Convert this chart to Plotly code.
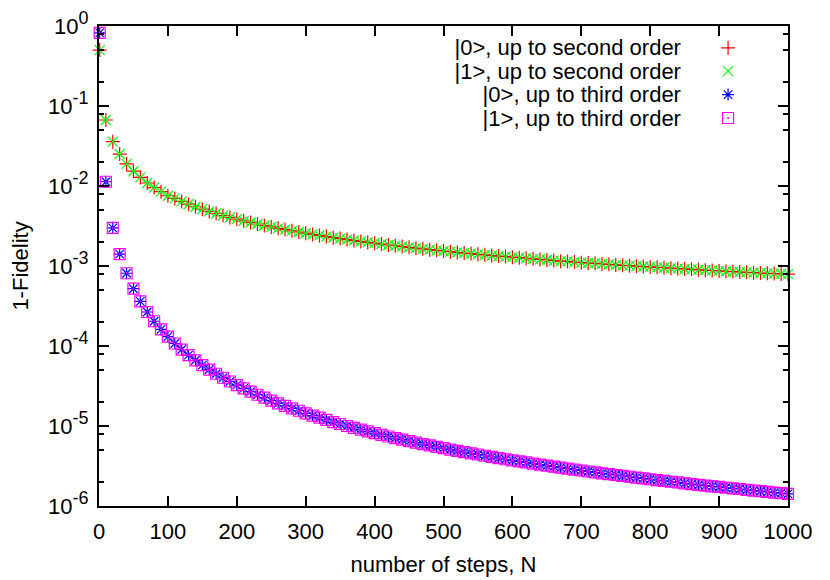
import plotly.graph_objects as go

# number of steps N (first point at N=1, then every 10)
steps = [1] + list(range(10, 1001, 10))

# 1-Fidelity
fid_0_second = [
    0.50, 0.0668, 0.0358, 0.0251, 0.0189, 0.0153, 0.0128, 0.0109, 0.00955, 0.00850, 0.00755,
    0.00700, 0.00642, 0.00592, 0.00550, 0.00513, 0.00481, 0.00453, 0.00428, 0.00405, 0.00385,
    0.00367, 0.00350, 0.00335, 0.00321, 0.00308, 0.00296, 0.00285, 0.00275, 0.00266, 0.00257,
    0.00248, 0.00241, 0.00233, 0.00226, 0.00220, 0.00214, 0.00208, 0.00203, 0.00197, 0.00193,
    0.00188, 0.00183, 0.00179, 0.00175, 0.00171, 0.00167, 0.00164, 0.00160, 0.00157, 0.00154,
    0.00151, 0.00148, 0.00145, 0.00143, 0.00140, 0.00138, 0.00135, 0.00133, 0.00131, 0.00129,
    0.00127, 0.00125, 0.00123, 0.00121, 0.00119, 0.00117, 0.00115, 0.00114, 0.00112, 0.00110,
    0.00109, 0.00108, 0.00106, 0.00105, 0.00103, 0.00102, 0.00101, 0.000995, 0.000985, 0.000975,
    0.000963, 0.000951, 0.000940, 0.000929, 0.000918, 0.000908, 0.000897, 0.000888, 0.000878, 0.000869,
    0.000860, 0.000851, 0.000842, 0.000834, 0.000826, 0.000818, 0.000810, 0.000803, 0.000796, 0.000790,
]
# |1> lies on top of |0> everywhere in the picture
fid_1_second = list(fid_0_second)

fid_0_third = [
    0.82, 0.0113, 0.00300, 0.00141, 0.000812, 0.000520, 0.000362, 0.000266, 0.000204, 0.000161, 0.000131,
    1.074e-4, 9.03e-5, 7.69e-5, 6.63e-5, 5.78e-5, 5.08e-5, 4.50e-5, 4.01e-5, 3.60e-5, 3.25e-5,
    2.95e-5, 2.69e-5, 2.46e-5, 2.26e-5, 2.08e-5, 1.92e-5, 1.78e-5, 1.66e-5, 1.55e-5, 1.44e-5,
    1.35e-5, 1.27e-5, 1.19e-5, 1.12e-5, 1.06e-5, 1.00e-5, 9.50e-6, 9.00e-6, 8.55e-6, 8.13e-6,
    7.75e-6, 7.39e-6, 7.06e-6, 6.76e-6, 6.47e-6, 6.20e-6, 5.95e-6, 5.71e-6, 5.49e-6, 5.28e-6,
    5.08e-6, 4.90e-6, 4.72e-6, 4.55e-6, 4.40e-6, 4.25e-6, 4.11e-6, 3.97e-6, 3.84e-6, 3.72e-6,
    3.61e-6, 3.50e-6, 3.39e-6, 3.29e-6, 3.20e-6, 3.10e-6, 3.02e-6, 2.93e-6, 2.85e-6, 2.78e-6,
    2.70e-6, 2.63e-6, 2.56e-6, 2.50e-6, 2.44e-6, 2.38e-6, 2.32e-6, 2.26e-6, 2.21e-6, 2.16e-6,
    2.11e-6, 2.06e-6, 2.01e-6, 1.97e-6, 1.92e-6, 1.88e-6, 1.84e-6, 1.80e-6, 1.76e-6, 1.73e-6,
    1.69e-6, 1.66e-6, 1.63e-6, 1.59e-6, 1.56e-6, 1.53e-6, 1.50e-6, 1.47e-6, 1.45e-6, 1.42e-6,
]
fid_1_third = list(fid_0_third)

names = [
    "|0>, up to second order",
    "|1>, up to second order",
    "|0>, up to third order",
    "|1>, up to third order",
]
series = [fid_0_second, fid_1_second, fid_0_third, fid_1_third]
colors = ["#ff0000", "#00ff00", "#0000ff", "#ff00ff"]
symbols = ["cross-thin-open", "x-thin-open", "asterisk-open", "square-open-dot"]
sizes = [10, 10, 10, 11]

y_exps = [0, -1, -2, -3, -4, -5, -6]
y_ticktext = [f"10<sup><span style='font-size:18px'>{e}</span></sup>" for e in y_exps]

FONT = "Liberation Sans, Arial, sans-serif"
FS = 22

fig = go.Figure()
for name, ys, c, s, sz in zip(names, series, colors, symbols, sizes):
    mk = dict(symbol=s, size=sz, color=c, line=dict(color=c, width=1.2))
    fig.add_trace(go.Scatter(x=steps, y=ys, mode="markers", marker=mk,
                             cliponaxis=False, showlegend=False, name=name))
    # key sample, drawn on a small axis pair whose tick labels are the names
    fig.add_trace(go.Scatter(x=[0], y=[name], mode="markers", marker=mk,
                             xaxis="x2", yaxis="y2", showlegend=False, hoverinfo="skip"))

axis_common = dict(showline=True, linecolor="black", linewidth=2, mirror="ticks",
                   ticks="inside", ticklen=10, tickwidth=2, tickcolor="black",
                   showgrid=False, zeroline=False, automargin=False,
                   tickfont=dict(family=FONT, size=FS, color="black"))

fig.update_layout(
    width=822, height=572,
    margin=dict(l=91, r=42, t=18, b=74),
    paper_bgcolor="white", plot_bgcolor="white",
    font=dict(family=FONT, size=FS, color="black"),
    xaxis=dict(range=[0, 1000], dtick=100, tick0=0, domain=[0, 1],
               title=dict(text="number of steps, N", standoff=13,
                          font=dict(family=FONT, size=FS)),
               ticklabelstandoff=5, **axis_common),
    yaxis=dict(type="log", range=[-6, 0], domain=[0, 1],
               tickvals=[10.0 ** e for e in y_exps], ticktext=y_ticktext,
               minor=dict(ticks="inside", ticklen=5, tickwidth=2, tickcolor="black",
                          tickvals=[m * 10.0 ** k for k in range(-6, 0) for m in (2, 5, 8)]),
               title=dict(text="1-Fidelity", standoff=20,
                          font=dict(family=FONT, size=FS)),
               ticklabelstandoff=4, **axis_common),
    xaxis2=dict(domain=[0.849, 0.977], range=[-1, 1], anchor="y2",
                showline=False, showgrid=False, zeroline=False, showticklabels=False,
                ticks="", automargin=False, fixedrange=True),
    yaxis2=dict(domain=[0.784, 0.979], range=[-0.5, 3.5], anchor="x2",
                type="category", categoryarray=names[::-1],
                tickmode="array", tickvals=names, ticktext=names,
                showline=False, showgrid=False, zeroline=False, ticks="",
                ticklabelstandoff=2, automargin=False, fixedrange=True,
                tickfont=dict(family=FONT, size=FS, color="black")),
)

fig.write_html("out.html")
